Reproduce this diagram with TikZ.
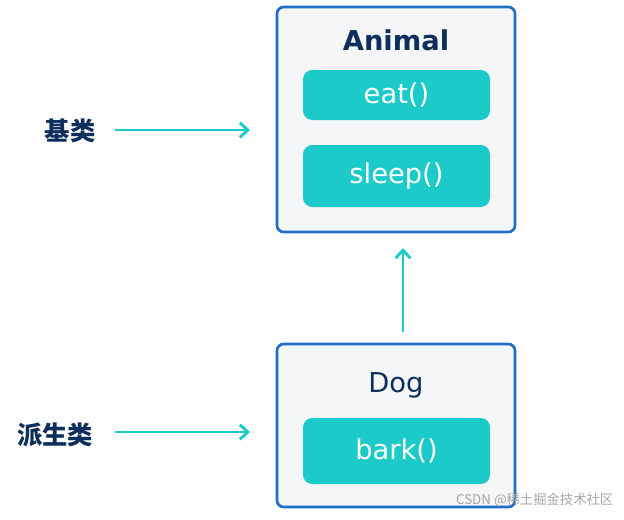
\documentclass[tikz,border=0pt]{standalone}
\usetikzlibrary{arrows.meta}
\usepackage{fontspec}
\setmainfont{DejaVu Sans}
\newfontfamily\cjk{Noto Sans CJK SC}
\definecolor{bord}{HTML}{1E6FC8}
\definecolor{teal1}{HTML}{1CCACA}
\definecolor{navy}{HTML}{0E2E5C}
\definecolor{boxbg}{HTML}{F5F6F7}
\begin{document}
\begin{tikzpicture}[x=0.75pt,y=-0.75pt,
  outer/.style={draw=bord,line width=2pt,fill=boxbg,rounded corners=5pt},
  meth/.style={fill=teal1,rounded corners=7pt,minimum width=140.25pt,text=white,font=\fontsize{20.5}{24}\selectfont},
  arr/.style={draw=teal1,line width=2.2pt,-{Straight Barb[length=6pt,width=11pt]}},
  lab/.style={font=\cjk\bfseries\fontsize{19}{22}\selectfont,text=navy}]
\useasboundingbox (0,0) rectangle (624,519);
\node[outer,minimum width=178.5pt,minimum height=168.75pt] (animal) at (396,119.5) {};
\node[font=\bfseries\fontsize{20.5}{24}\selectfont,text=navy] (atitle) at (396,40) {Animal};
\node[meth,minimum height=37.5pt] (eat) at (396.5,95) {eat()};
\node[meth,minimum height=46.5pt] (sleep) at (396.5,176) {sleep()};
\node[outer,minimum width=178.5pt,minimum height=122.25pt] (dog) at (396,425.5) {};
\node[font=\fontsize{20.5}{24}\selectfont,text=navy] (dtitle) at (396,385) {Dog};
\node[meth,minimum height=49.5pt] (bark) at (396.5,451) {bark()};
\coordinate (up0) at (403,332);
\coordinate (up1) at (403,248);
\draw[arr] (up0) -- (up1);
\node[lab] (jl) at (70,131) {基类};
\node[lab] (psl) at (55,435) {派生类};
\coordinate (a0) at (115,130); \coordinate (a1) at (250,130);
\coordinate (b0) at (115,432); \coordinate (b1) at (250,432);
\draw[arr] (a0) -- (a1);
\draw[arr] (b0) -- (b1);
\node[text=gray!70,font=\cjk\fontsize{10}{12}\selectfont,anchor=east] (wm) at (618,500) {CSDN @稀土掘金技术社区};
\end{tikzpicture}
\end{document}
